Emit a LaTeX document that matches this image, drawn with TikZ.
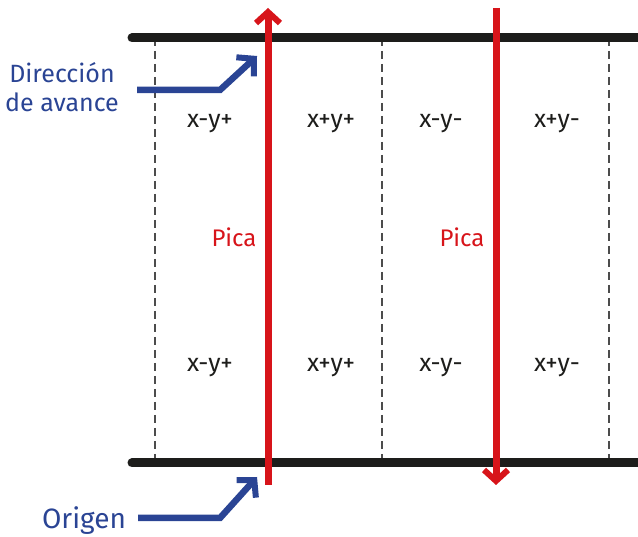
\documentclass[tikz,border=0pt]{standalone}
\usepackage{fontspec}
\setmainfont{Fira Sans}
\usetikzlibrary{arrows.meta}
\definecolor{picared}{HTML}{D7141A}
\definecolor{avanceblue}{HTML}{2A4494}
\definecolor{railblack}{HTML}{1D1D1B}

\begin{document}
\begin{tikzpicture}[x=1pt, y=-1pt,
        rail/.style = {line width=9pt, color=railblack, line cap=round},
        guide/.style = {line width=2pt, color=black!70, dash pattern=on 8pt off 5pt},
        pass/.style = {line width=7pt, color=picared,
            -{Straight Barb[length=11pt, width=24pt, line width=6pt]}},
        pointer/.style = {line width=6.5pt, color=avanceblue,
            -{Straight Barb[length=12pt, width=26pt, line width=6pt]}},
        sign/.style = {font=\fontsize{25}{29}\selectfont, text=railblack, inner sep=0pt, anchor=base},
        picalabel/.style = {sign, font=\fontsize{24}{29}\selectfont, text=picared},
        notelabel/.style = {sign, text=avanceblue, align=center}
    ]
    \useasboundingbox (0,0) rectangle (638,537);

    \foreach \gx in {155,382,609}
        \draw[guide] (\gx,38) -- (\gx,463);
    \draw[rail] (132,38) -- (660,38);
    \draw[rail] (132,463) -- (660,463);

    \coordinate (upfoot) at (268,485);
    \coordinate (uphead) at (268,8);
    \coordinate (downfoot) at (496,8);
    \coordinate (downhead) at (496,485);
    \draw[pass] (upfoot) -- (uphead);
    \draw[pass] (downfoot) -- (downhead);

    \node[sign] (q1a) at (210,128) {x-y+};
    \node[sign] (q2a) at (331,128) {x+y+};
    \node[sign] (q3a) at (441,128) {x-y-};
    \node[sign] (q4a) at (557,128) {x+y-};
    \node[sign] (q1b) at (210,372) {x-y+};
    \node[sign] (q2b) at (331,372) {x+y+};
    \node[sign] (q3b) at (441,372) {x-y-};
    \node[sign] (q4b) at (557,372) {x+y-};
    \node[picalabel] (pica1) at (234,247) {Pica};
    \node[picalabel] (pica2) at (462,247) {Pica};

    \node[notelabel] (dir) at (62,112) {Dirección\\de avance};
    \node[notelabel, font=\fontsize{28}{32}\selectfont] (orig) at (84,529) {Origen};

    \coordinate (dirbend) at (220,90);
    \coordinate (dirtip) at (257,56);
    \coordinate (origbend) at (220,518);
    \coordinate (origtip) at (257,477);
    \draw[pointer] (dirbend -| dir.east) ++(18,0) -- (dirbend) -- (dirtip);
    \draw[pointer] (origbend -| orig.east) ++(12,0) -- (origbend) -- (origtip);
\end{tikzpicture}
\end{document}
